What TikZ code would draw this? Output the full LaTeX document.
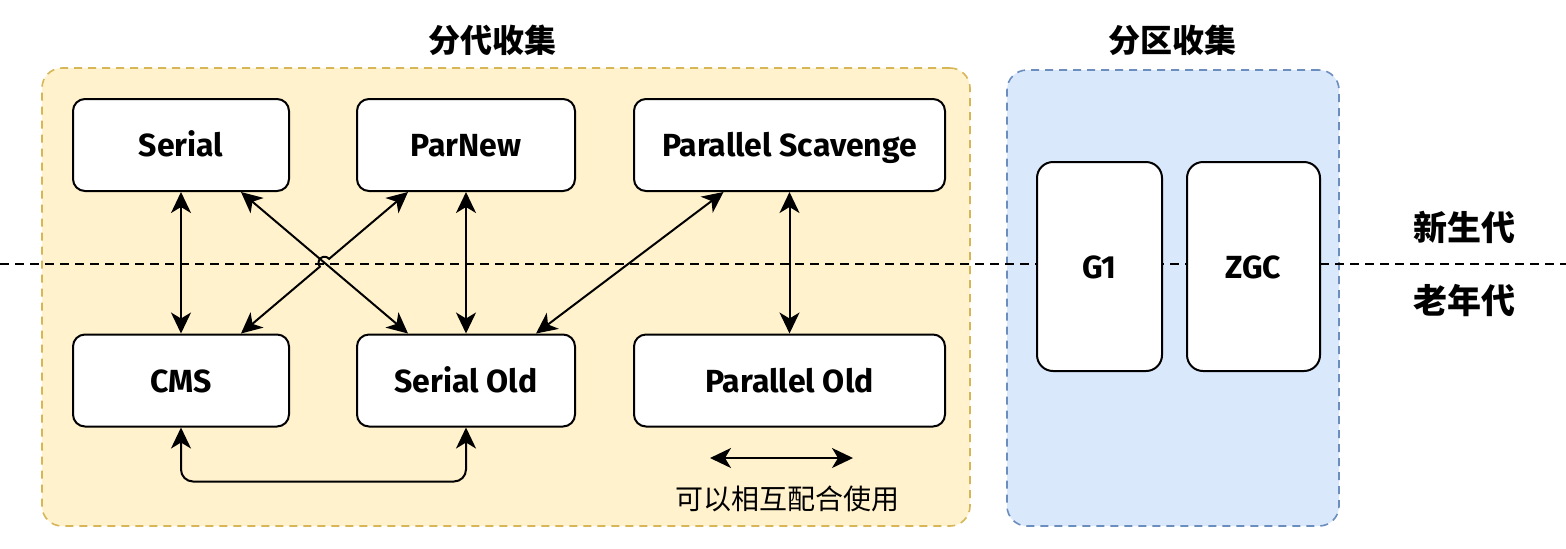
\documentclass[tikz,border=0pt]{standalone}
\usepackage{fontspec}
\setsansfont{Fira Sans}
\newfontfamily\cjk{Noto Sans CJK SC}
\usetikzlibrary{arrows.meta,positioning,calc}
\definecolor{genfill}{HTML}{FFF2CC}
\definecolor{genline}{HTML}{D6B656}
\definecolor{regfill}{HTML}{DAE8FC}
\definecolor{regline}{HTML}{6C8EBF}

\begin{document}
\begin{tikzpicture}[x=0.5pt,y=0.5pt,>={Stealth[length=10.5pt,width=10pt,inset=3pt]},
  gcbox/.style={rectangle, rounded corners=6pt, draw=black, line width=1pt,
      fill=white, minimum height=46pt, inner sep=0pt,
      text height=11.5pt, text depth=0pt,
      font=\sffamily\bfseries\fontsize{16}{19}\selectfont},
  gcgroup/.style={rectangle, rounded corners=10pt, dashed, line width=0.8pt,
      dash pattern=on 4pt off 3pt, inner sep=0pt},
  gctitle/.style={font=\cjk\bfseries\fontsize{16}{19}\selectfont},
  link/.style={<->, line width=1pt}]
\useasboundingbox (0,0) rectangle (1566,-548);

\node[gcgroup, draw=genline, fill=genfill, minimum width=464pt,
      minimum height=229pt] (gen) at (506,-297) {};
\node[gcgroup, draw=regline, fill=regfill, minimum width=166pt,
      minimum height=228pt] (reg) at (1173,-298) {};
\node[gctitle] (gentitle) at (492,-40) {分代收集};
\node[gctitle] (regtitle) at (1172,-40) {分区收集};

\coordinate (lineL) at (0,-264);
\coordinate (lineR) at (1566,-264);
\draw[line width=1pt, dash pattern=on 4.5pt off 3pt] (lineL) -- (lineR);

\node[gctitle, font=\cjk\bfseries\fontsize{17}{20}\selectfont] (young) at (1464,-227) {新生代};
\node[gctitle, font=\cjk\bfseries\fontsize{17}{20}\selectfont] (old) at (1464,-301) {老年代};

\node[gcbox, minimum width=108pt] (serial) at (181,-145) {Serial};
\node[gcbox, minimum width=109pt] (parnew) at (466,-145) {ParNew};
\node[gcbox, minimum width=155.5pt] (ps) at (789.5,-145) {Parallel Scavenge};
\node[gcbox, minimum width=108pt] (cms) at (181,-380.5) {CMS};
\node[gcbox, minimum width=109pt] (serialold) at (466,-380.5) {Serial Old};
\node[gcbox, minimum width=155.5pt] (parold) at (789.5,-380.5) {Parallel Old};
\node[gcbox, rounded corners=8pt, minimum width=62.5pt, minimum height=104.5pt] (g1) at (1099.5,-266.5) {G1};
\node[gcbox, rounded corners=8pt, minimum width=66.5pt, minimum height=104.5pt] (zgc) at (1253.5,-266.5) {ZGC};

\coordinate (sA) at ([xshift=30pt]serial.south);
\coordinate (pnA) at ([xshift=-29pt]parnew.south);
\coordinate (psA) at ([xshift=-33pt]ps.south);
\coordinate (cmsA) at ([xshift=30pt]cms.north);
\coordinate (soL) at ([xshift=-29pt]serialold.north);
\coordinate (soR) at ([xshift=35pt]serialold.north);
\coordinate (X) at (intersection of sA--soL and pnA--cmsA);

\draw[link] (serial.south) -- (cms.north);
\draw[link] (parnew.south) -- (serialold.north);
\draw[link] (ps.south) -- (parold.north);
\draw[link] (sA) -- (soL);
\draw[link] let \p1=($(pnA)-(cmsA)$), \n1={atan2(\y1,\x1)} in
  (cmsA) -- ($(X)!3pt!(cmsA)$)
  arc[start angle=\n1+180, end angle=\n1, radius=3pt] -- (pnA);
\draw[link] (psA) -- (soR);
\draw[link, rounded corners=6pt] (cms.south) -- ++(0,-54) -| (serialold.south);

\coordinate (legL) at (710,-458);
\coordinate (legR) at (853,-458);
\draw[link] (legL) -- (legR);
\node[font=\cjk\fontsize{14}{17}\selectfont] (legtext) at (787,-499) {可以相互配合使用};
\end{tikzpicture}
\end{document}
